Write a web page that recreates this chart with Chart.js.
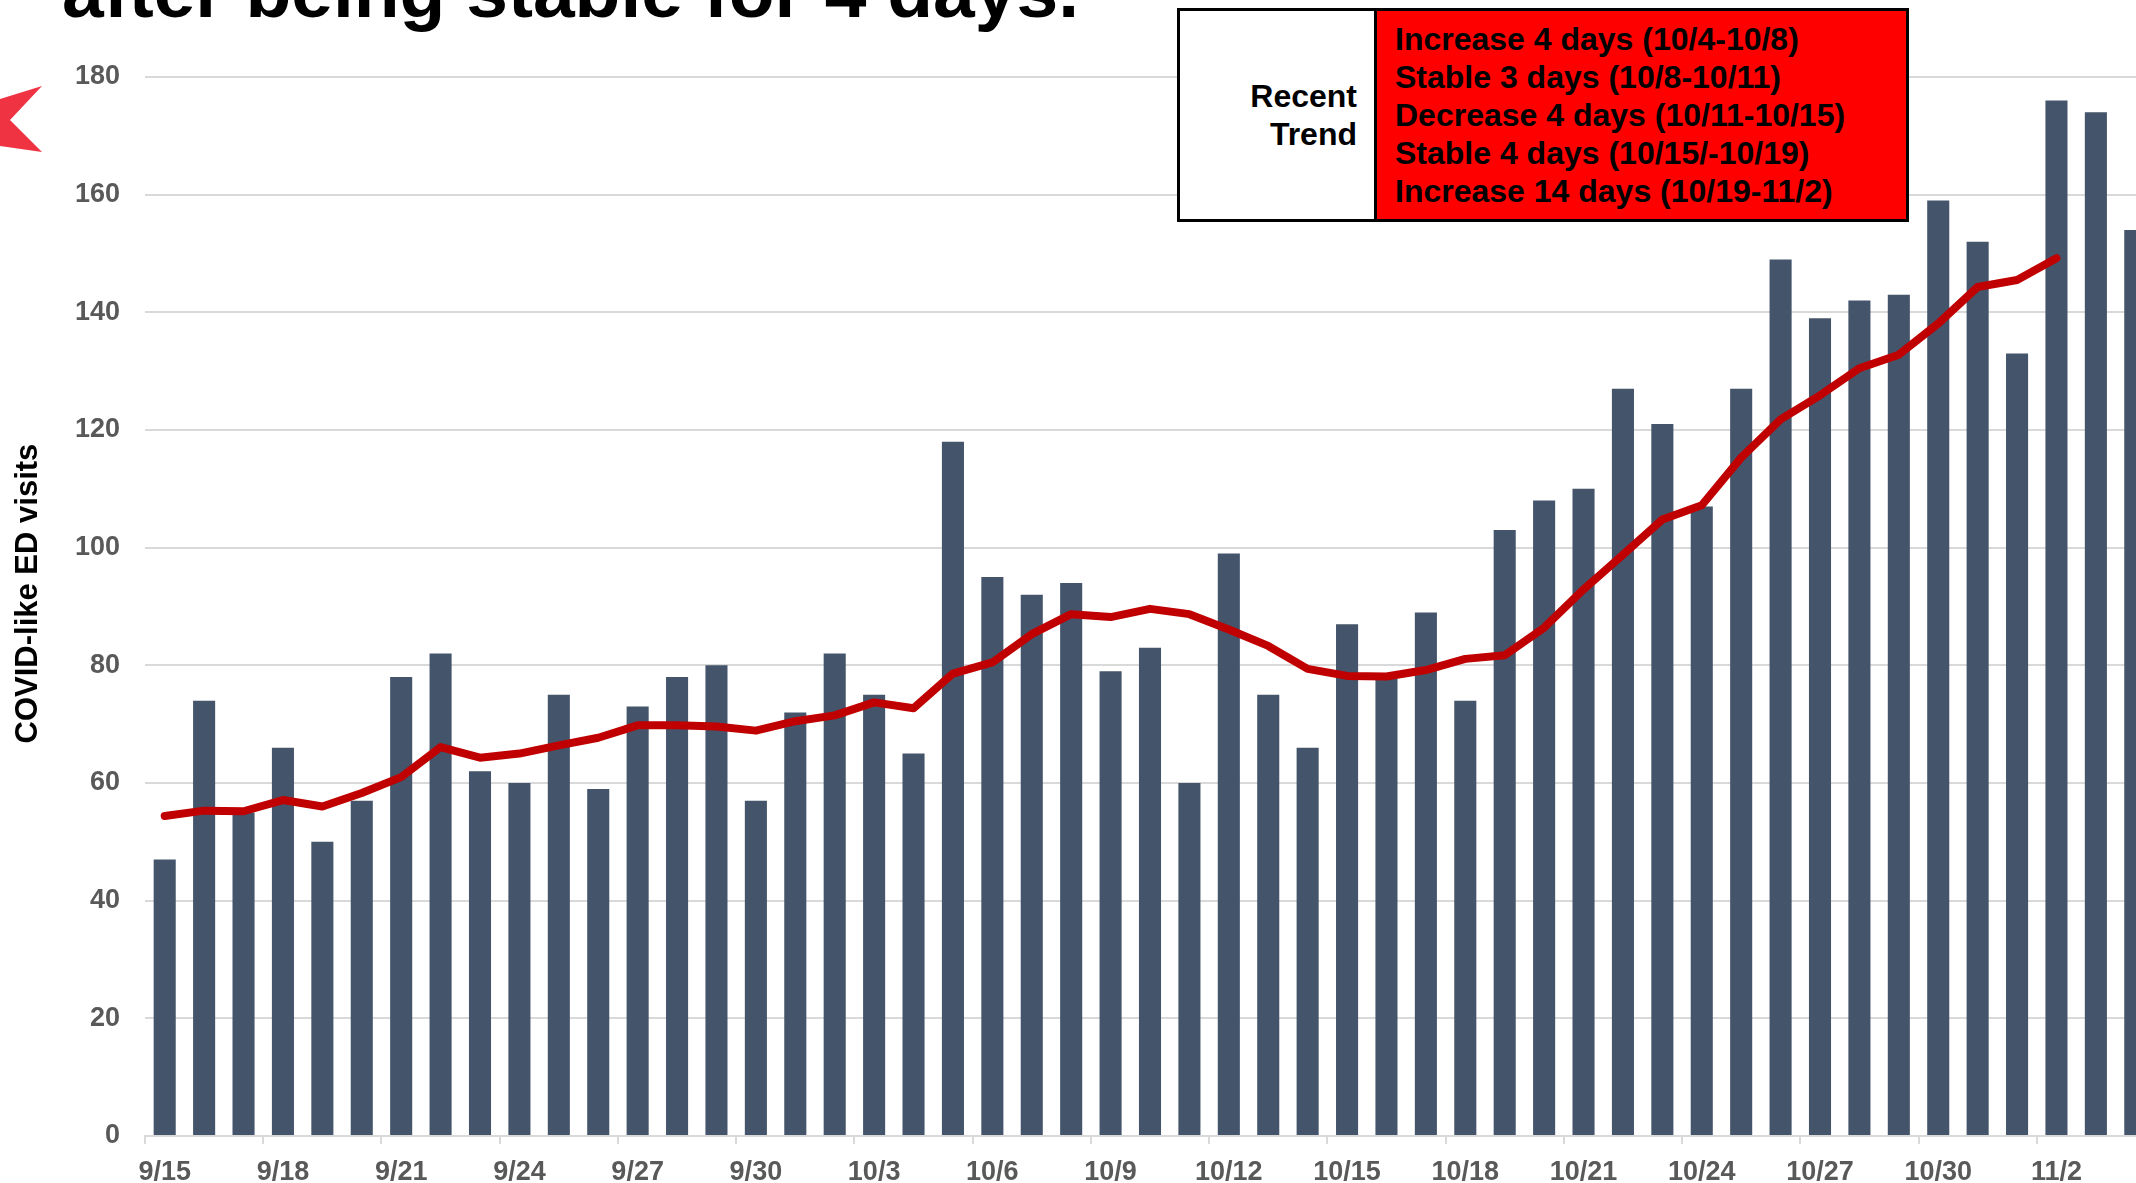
<!DOCTYPE html>
<html>
<head>
<meta charset="utf-8">
<script src="https://cdn.jsdelivr.net/npm/chart.js@4.4.0/dist/chart.umd.min.js"></script>
<style>
  html, body { margin: 0; padding: 0; background: #fff; overflow: hidden; width: 2136px; height: 1183px; }
  body { position: relative; font-family: "Liberation Sans", Arial, sans-serif; }
  #myChart { position: absolute; left: 0; top: 0; }
  .title {
    position: absolute; left: 62px; top: -46px;
    font-size: 75px; line-height: 75px; font-weight: bold; color: #000; white-space: nowrap;
  }
  .arrow {
    position: absolute; left: 0; top: 86px; width: 42px; height: 66px; background: #ef3343;
    clip-path: polygon(0px 13px, 42px 0px, 10px 34px, 42px 66px, 0px 60px);
  }
  .trend {
    position: absolute; left: 1177px; top: 8px; width: 726px; height: 208px;
    border: 3px solid #000; display: flex; font-weight: bold; font-size: 32px; line-height: 38px; color: #000;
  }
  .trend .name {
    width: 197px; background: #fff; border-right: 3px solid #000;
    display: flex; flex-direction: column; justify-content: center; align-items: flex-end;
    padding-right: 17px; box-sizing: border-box; text-align: right;
  }
  .trend .desc {
    flex: 1; background: #ff0000; padding-left: 18px;
    display: flex; flex-direction: column; justify-content: center; white-space: nowrap;
  }
</style>
</head>
<body>
<canvas id="myChart" width="2155" height="1196"></canvas>
<div class="title">after being stable for 4 days.</div>
<div class="arrow"></div>
<div class="trend">
  <div class="name"><div>Recent</div><div>Trend</div></div>
  <div class="desc">
    <div>Increase 4 days (10/4-10/8)</div>
    <div>Stable 3 days (10/8-10/11)</div>
    <div>Decrease 4 days (10/11-10/15)</div>
    <div>Stable 4 days (10/15/-10/19)</div>
    <div>Increase 14 days (10/19-11/2)</div>
  </div>
</div>
<script>
// daily dates shown on the x axis (every 3rd one gets a label)
const dates = [
  "9/15", "9/16", "9/17", "9/18", "9/19", "9/20", "9/21", "9/22", "9/23", "9/24",
  "9/25", "9/26", "9/27", "9/28", "9/29", "9/30",
  "10/1", "10/2", "10/3", "10/4", "10/5", "10/6", "10/7", "10/8", "10/9", "10/10",
  "10/11", "10/12", "10/13", "10/14", "10/15", "10/16", "10/17", "10/18", "10/19", "10/20",
  "10/21", "10/22", "10/23", "10/24", "10/25", "10/26", "10/27", "10/28", "10/29", "10/30",
  "10/31", "11/1", "11/2", "11/3", "11/4"
];

// daily COVID-like ED visits (bars)
const visits = [
  47, 74, 55, 66, 50, 57, 78, 82, 62, 60, 75, 59, 73, 78, 80, 57,
  72, 82, 75, 65, 118, 95, 92, 94, 79, 83, 60, 99, 75, 66, 87, 78, 89, 74, 103, 108,
  110, 127, 121, 107, 127, 149, 139, 142, 143, 159, 152,
  133, 176, 174, 154
];

// 7-day average (red line), ends on 11/2
const avg7 = [
  54.4, 55.3, 55.2, 57.1, 56.0, 58.3, 61.0, 66.1, 64.3, 65.0, 66.4, 67.7, 69.8, 69.8, 69.6, 68.9,
  70.5, 71.5, 73.7, 72.7, 78.6, 80.5, 85.3, 88.7, 88.2, 89.6, 88.7, 86.1, 83.3, 79.4, 78.2, 78.1,
  79.2, 81.1, 81.7, 86.4, 92.9, 98.8, 104.8, 107.2, 115.3, 121.8, 125.9, 130.5, 132.8, 138.1, 144.3,
  145.5, 149.2, null, null
];

const yTicks = { min: 0, max: 180, step: 20 };

const tickFont = { family: "'Liberation Sans', Arial, sans-serif", size: 27, weight: "bold" };

const ctx = document.getElementById("myChart").getContext("2d");
const myChart = new Chart(ctx, {
  type: "bar",
  data: {
    labels: dates,
    datasets: [
      {
        type: "line",
        data: avg7,
        borderColor: "#c00000",
        borderWidth: 8,
        borderCapStyle: "round",
        borderJoinStyle: "round",
        pointRadius: 0,
        tension: 0,
        spanGaps: false,
        order: 0,
      },
      {
        type: "bar",
        data: visits,
        backgroundColor: "#44546a",
        barPercentage: 0.56,
        categoryPercentage: 1,
        order: 1,
      },
    ],
  },
  options: {
    responsive: false,
    animation: false,
    layout: { padding: { top: 77, right: 0, bottom: 0, left: 0 } },
    plugins: {
      legend: { display: false },
      tooltip: { enabled: false },
    },
    scales: {
      x: {
        offset: true,
        grid: {
          offset: true,
          drawOnChartArea: false,
          drawTicks: true,
          tickLength: 8,
          lineWidth: 2,
          color: (c) => (c.index % 3 === 0 ? "#d9d9d9" : "rgba(0,0,0,0)"),
        },
        border: { display: true, color: "#d9d9d9", width: 2 },
        ticks: {
          autoSkip: false,
          maxRotation: 0,
          padding: 12,
          color: "#595959",
          font: tickFont,
          callback: function (value, index) {
            return index % 3 === 0 ? dates[index] : "";
          },
        },
        afterFit: (scale) => { scale.height = 60; },
      },
      y: {
        min: yTicks.min,
        max: yTicks.max,
        grid: { color: "#d9d9d9", lineWidth: 2, drawTicks: false },
        border: { display: false },
        ticks: {
          stepSize: yTicks.step,
          padding: 25,
          color: "#595959",
          font: tickFont,
        },
        title: {
          display: true,
          text: "   COVID-like ED visits",
          color: "#000",
          padding: { top: 10, bottom: 0 },
          font: { family: "'Liberation Sans', Arial, sans-serif", size: 31, weight: "bold" },
        },
        afterFit: (scale) => { scale.width = 145; },
      },
    },
  },
});
</script>
</body>
</html>
